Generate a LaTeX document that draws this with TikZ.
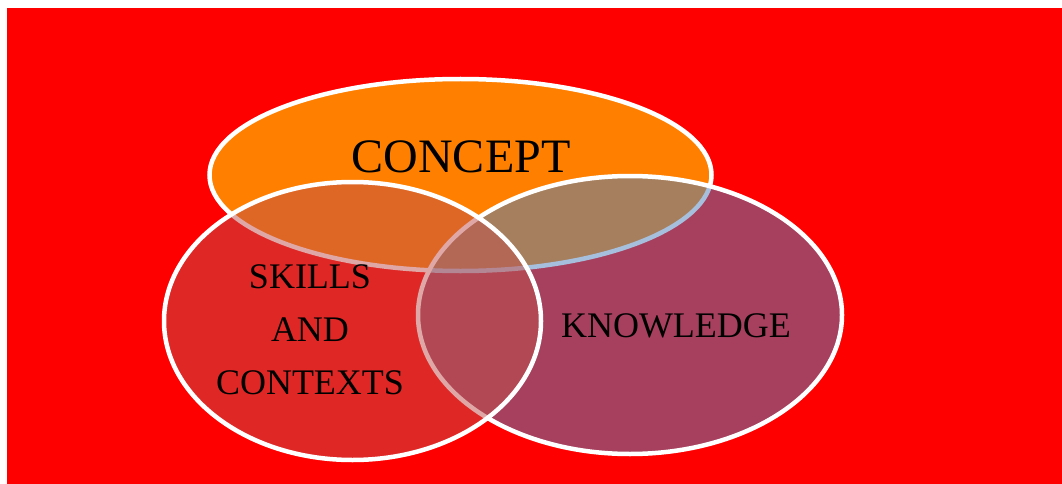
\documentclass[tikz,border=0pt]{standalone}
\usepackage{fontspec}
\setmainfont{Liberation Serif}
\usetikzlibrary{shapes.geometric}
\definecolor{bgred}{RGB}{255,0,0}
\definecolor{conceptorange}{RGB}{255,128,0}
\definecolor{knowblue}{RGB}{79,129,189}
\definecolor{skillred}{RGB}{192,80,77}
\tikzset{
  blob/.style={ellipse,draw=white,line width=4.5pt,inner sep=0pt},
  word/.style={font=\fontsize{36}{53}\selectfont,align=center,text=black}
}
\begin{document}
\begin{tikzpicture}[x=1pt,y=-1pt]
                %\draw[help lines] (0,0) grid (1062,484);
                \useasboundingbox (0,0) rectangle (1062,484);
                \fill[bgred] (7,8) rectangle (1062,484);
                \node[blob,fill=conceptorange,minimum width=502pt,minimum height=192pt] (concept) at (460.5,175) {};
                \node[blob,fill=knowblue,fill opacity=0.5,minimum width=424pt,minimum height=278pt] (knowledge) at (630,315) {};
                \node[blob,fill=skillred,fill opacity=0.5,minimum width=377pt,minimum height=278pt] (skills) at (352.5,321) {};
                \node[word,font=\fontsize{48}{58}\selectfont] (conceptlabel) at (461,157) {CONCEPT};
                \node[word] (knowledgelabel) at (676,326) {KNOWLEDGE};
                \node[word] (skillslabel) at (310,330) {SKILLS\\AND\\CONTEXTS};
            \end{tikzpicture}
\end{document}
